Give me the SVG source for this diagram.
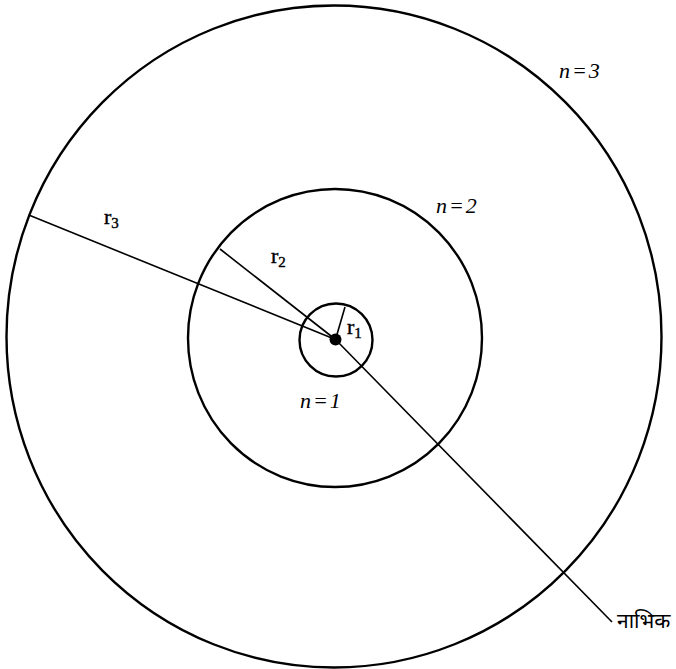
<svg xmlns="http://www.w3.org/2000/svg" width="676" height="669" viewBox="0 0 676 669">
<style>
.orbit{fill:none;stroke:#000;stroke-width:2.4}
.ln{stroke:#000;stroke-width:1.6;fill:none}
.lbl{font-family:"Liberation Serif","Times New Roman",serif;font-style:italic;font-size:22px;fill:#000}
.r{font-family:"Liberation Serif","Times New Roman",serif;font-size:22px;fill:#000;stroke:#000;stroke-width:0.4}
.sub{font-size:15px}
.hi{font-family:"Noto Sans","Noto Sans Devanagari","Lohit Devanagari",sans-serif;font-size:21px;fill:#000}
</style>
<rect width="676" height="669" fill="#fff"/>
<g id="connectors">
<line class="ln" x1="30" y1="215.5" x2="335.5" y2="339.5"/>
<line class="ln" x1="220" y1="249" x2="335.5" y2="339.5"/>
<line class="ln" x1="345" y1="307" x2="335.5" y2="339.5"/>
<line class="ln" x1="335.5" y1="339.5" x2="612" y2="622"/>
</g>
<g id="orbit3"><ellipse class="orbit" cx="334" cy="336.5" rx="327.5" ry="331"/>
<text class="lbl" x="559" y="77.5" letter-spacing="2">n=3</text></g>
<g id="orbit2"><ellipse class="orbit" cx="335" cy="338" rx="147" ry="149"/>
<text class="lbl" x="436" y="213" letter-spacing="2">n=2</text></g>
<g id="orbit1"><circle class="orbit" cx="336" cy="340" r="36.5"/>
<text class="lbl" x="300" y="408" letter-spacing="2">n=1</text></g>
<g id="nucleus"><circle cx="335.5" cy="339.5" r="6" fill="#000"/>
<text class="hi" x="617" y="628">नाभिक</text></g>
<g id="r3"><text class="r" x="104" y="224">r<tspan class="sub" dy="4">3</tspan></text></g>
<g id="r2"><text class="r" x="271" y="263">r<tspan class="sub" dy="4">2</tspan></text></g>
<g id="r1"><text class="r" x="347" y="334">r<tspan class="sub" dy="4">1</tspan></text></g>
</svg>
